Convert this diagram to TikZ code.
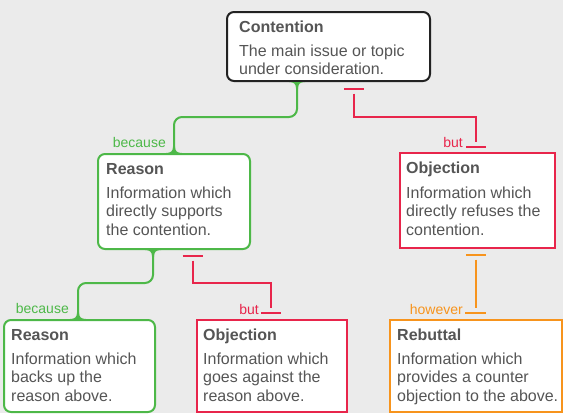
\documentclass[tikz,border=0pt]{standalone}
\usepackage{fontspec}
\setmainfont{Liberation Sans}
\usetikzlibrary{calc}
\definecolor{bg}{HTML}{EBEBEB}
\definecolor{gr}{HTML}{4DB848}
\definecolor{rd}{HTML}{E8254B}
\definecolor{og}{HTML}{F7941D}
\definecolor{tx}{HTML}{555555}
\definecolor{dk}{HTML}{222222}
\begin{document}
\begin{tikzpicture}[x=1pt,y=-1pt,
  box/.style={draw, line width=2pt, fill=white, inner sep=0pt, anchor=north west},
  rbox/.style={box, rounded corners=7pt},
  ttl/.style={font=\fontsize{16}{18}\selectfont\bfseries, text=tx, inner sep=0pt, anchor=base west},
  bdy/.style={font=\fontsize{16}{18}\selectfont, text=tx, inner sep=0pt, anchor=base west},
  lbl/.style={font=\fontsize{14}{16}\selectfont, inner sep=0pt, anchor=base east},
  gline/.style={draw=gr, line width=2pt, rounded corners=8pt},
  rline/.style={draw=rd, line width=2pt},
  oline/.style={draw=og, line width=2pt},
  flare/.pic={\fill (-8,0) .. controls (-3,0) and (-1,2) .. (-1,6.5) -- (1,6.5) .. controls (1,2) and (3,0) .. (8,0) -- cycle;}
]
\fill[bg] (0,0) rectangle (563,413);
\useasboundingbox (0,0) rectangle (563,413);

% boxes
\node[rbox, draw=dk, minimum width=203pt, minimum height=69pt] (con) at (226,11) {};
\node[rbox, draw=gr, minimum width=152pt, minimum height=95pt] (r1) at (97,153) {};
\node[box, draw=rd, minimum width=155pt, minimum height=95pt] (ob1) at (399,152) {};
\node[rbox, draw=gr, minimum width=151pt, minimum height=92pt] (r2) at (3,319) {};
\node[box, draw=rd, minimum width=150pt, minimum height=92pt] (ob2) at (196,319) {};
\node[box, draw=og, minimum width=172pt, minimum height=92pt] (reb) at (389,319) {};

% texts
\node[ttl] (conT) at (239,32) {Contention};
\node[bdy] (conB1) at (239,56) {The main issue or topic};
\node[bdy] (conB2) at (239,74) {under consideration.};

\node[ttl] (r1T) at (106,174) {Reason};
\node[bdy] (r1B1) at (106,198) {Information which};
\node[bdy] (r1B2) at (106,216.5) {directly supports};
\node[bdy] (r1B3) at (106,235) {the contention.};

\node[ttl] (ob1T) at (406,173) {Objection};
\node[bdy] (ob1B1) at (406,198) {Information which};
\node[bdy] (ob1B2) at (406,216.5) {directly refuses the};
\node[bdy] (ob1B3) at (406,235) {contention.};

\node[ttl] (r2T) at (11,340) {Reason};
\node[bdy] (r2B1) at (11,364) {Information which};
\node[bdy] (r2B2) at (11,382.5) {backs up the};
\node[bdy] (r2B3) at (11,401) {reason above.};

\node[ttl] (ob2T) at (203,340) {Objection};
\node[bdy] (ob2B1) at (203,364) {Information which};
\node[bdy] (ob2B2) at (203,382.5) {goes against the};
\node[bdy] (ob2B3) at (203,401) {reason above.};

\node[ttl] (rebT) at (397,340) {Rebuttal};
\node[bdy] (rebB1) at (397,364) {Information which};
\node[bdy] (rebB2) at (397,382.5) {provides a counter};
\node[bdy] (rebB3) at (397,401) {objection to the above.};

% green connector 1
\coordinate (g1a) at (297,117);
\coordinate (g1b) at (174,117);
\draw[gline] (g1a |- con.south) -- (g1a) -- (g1b) -- (g1b |- r1.north);
\pic[gr] at (g1a |- con.south) {flare};
\pic[gr, yscale=-1] at (g1b |- r1.north) {flare};
\node[lbl, text=gr] (l1) at ($(g1b |- r1.north)+(-8,-6)$) {because};

% green connector 2
\coordinate (g2a) at (153,283);
\coordinate (g2b) at (78,283);
\draw[gline] (g2a |- r1.south) -- (g2a) -- (g2b) -- (g2b |- r2.north);
\pic[gr] at (g2a |- r1.south) {flare};
\pic[gr, yscale=-1] at (g2b |- r2.north) {flare};
\node[lbl, text=gr] (l2) at ($(g2b |- r2.north)+(-9,-6)$) {because};

% red connector 1
\coordinate (q1a) at (354,117);
\coordinate (q1b) at (476,117);
\draw[rline] ($(q1a |- con.south)+(0,11.5)$) -- (q1a) -- (q1b) -- ($(q1b |- ob1.north)+(0,-10.5)$);
\draw[rline] ($(q1a |- con.south)+(-10,6.5)$) -- ++(20,0);
\draw[rline] ($(q1b |- ob1.north)+(-10,-5.5)$) coordinate (q1c) -- ++(20,0);
\node[lbl, text=rd] (l3) at ($(q1c)+(-3,1)$) {but};

% red connector 2
\coordinate (q2a) at (192.5,283);
\coordinate (q2b) at (271,283);
\draw[rline] ($(q2a |- r1.south)+(0,10.5)$) -- (q2a) -- (q2b) -- ($(q2b |- ob2.north)+(0,-11)$);
\draw[rline] ($(q2a |- r1.south)+(-10,6)$) -- ++(20,0);
\draw[rline] ($(q2b |- ob2.north)+(-10,-6)$) coordinate (q2c) -- ++(20,0);
\node[lbl, text=rd] (l4) at ($(q2c)+(-2,1)$) {but};

% orange connector
\coordinate (o1) at (476,283);
\draw[oline] ($(o1 |- ob1.south)+(0,10.5)$) -- ($(o1 |- reb.north)+(0,-11)$);
\draw[oline] ($(o1 |- ob1.south)+(-10,6)$) -- ++(20,0);
\draw[oline] ($(o1 |- reb.north)+(-11,-6)$) coordinate (o1c) -- ++(21,0);
\node[lbl, text=og] (l5) at ($(o1c)+(-2,1)$) {however};
\end{tikzpicture}
\end{document}
